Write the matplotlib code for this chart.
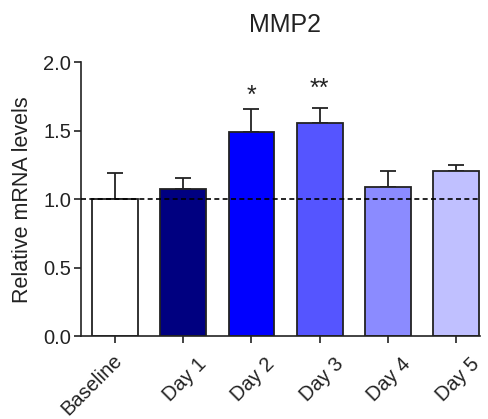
import matplotlib
matplotlib.use("Agg")
import matplotlib.pyplot as plt
import matplotlib.transforms as mtrans
import numpy as np

categories = ["Baseline", "Day 1", "Day 2", "Day 3", "Day 4", "Day 5"]
values = [1.00, 1.077, 1.493, 1.558, 1.093, 1.206]
errors = [0.19, 0.078, 0.165, 0.112, 0.115, 0.046]
colors = ["#FFFFFF", "#000080", "#0000FF", "#5555FF", "#8B8BFF", "#C0C0FF"]
stars = ["", "", "*", "**", "", ""]

plt.rcParams['font.family'] = ['Liberation Sans', 'DejaVu Sans']
txt = "#222222"

fig = plt.figure(figsize=(4.89, 4.19), dpi=100)
ax = fig.add_axes([0.165, 0.197, 0.817, 0.654])

x = np.arange(len(categories))
ax.bar(x, values, width=0.67, color=colors, edgecolor="#222222", linewidth=1.3, zorder=2)
ax.errorbar(x, values, yerr=[np.zeros(len(values)), errors], fmt="none",
            ecolor="#222222", elinewidth=1.3, capsize=6, capthick=1.3, zorder=1)
ax.axhline(1.0, color="black", linestyle=(0, (3, 2)), linewidth=1.2, zorder=3)

star_off = {"*": 0.045, "**": 0.085}
for xi, v, e, s in zip(x, values, errors, stars):
    if s:
        ax.text(xi, v + e + star_off[s], s, ha="center", va="baseline",
                fontsize=18, color=txt)

ax.set_xlim(-0.5, 5.35)
ax.set_ylim(0, 2.0)
ax.set_yticks([0, 0.5, 1.0, 1.5, 2.0])
ax.set_yticklabels(["0.0", "0.5", "1.0", "1.5", "2.0"])
ax.set_xticks(x)
ax.set_xticklabels(categories, rotation=45, ha="center", va="top")
ax.tick_params(axis="both", labelsize=14.5, length=5, width=1.2, color="#222222",
               labelcolor=txt)
ax.tick_params(axis="y", pad=2)
ax.tick_params(axis="x", pad=8)

# per-label shift (points) to mimic the original label placement
label_shift = [(-16.3, 3.0), (1.0, 0), (1.0, 0), (1.5, 0), (1.0, 0), (1.0, 0)]
for lbl, (dx, dy) in zip(ax.get_xticklabels(), label_shift):
    lbl.set_transform(lbl.get_transform() +
                      mtrans.ScaledTranslation(dx / 72, dy / 72, fig.dpi_scale_trans))

ax.set_ylabel("Relative mRNA levels", fontsize=15.5, color=txt, labelpad=7)
ax.set_title("MMP2", fontsize=18, pad=22, color=txt, x=0.512)
for sp in ["top", "right"]:
    ax.spines[sp].set_visible(False)
for sp in ["left", "bottom"]:
    ax.spines[sp].set_linewidth(1.2)
    ax.spines[sp].set_color("#222222")

fig.savefig("out.png", dpi=100)
